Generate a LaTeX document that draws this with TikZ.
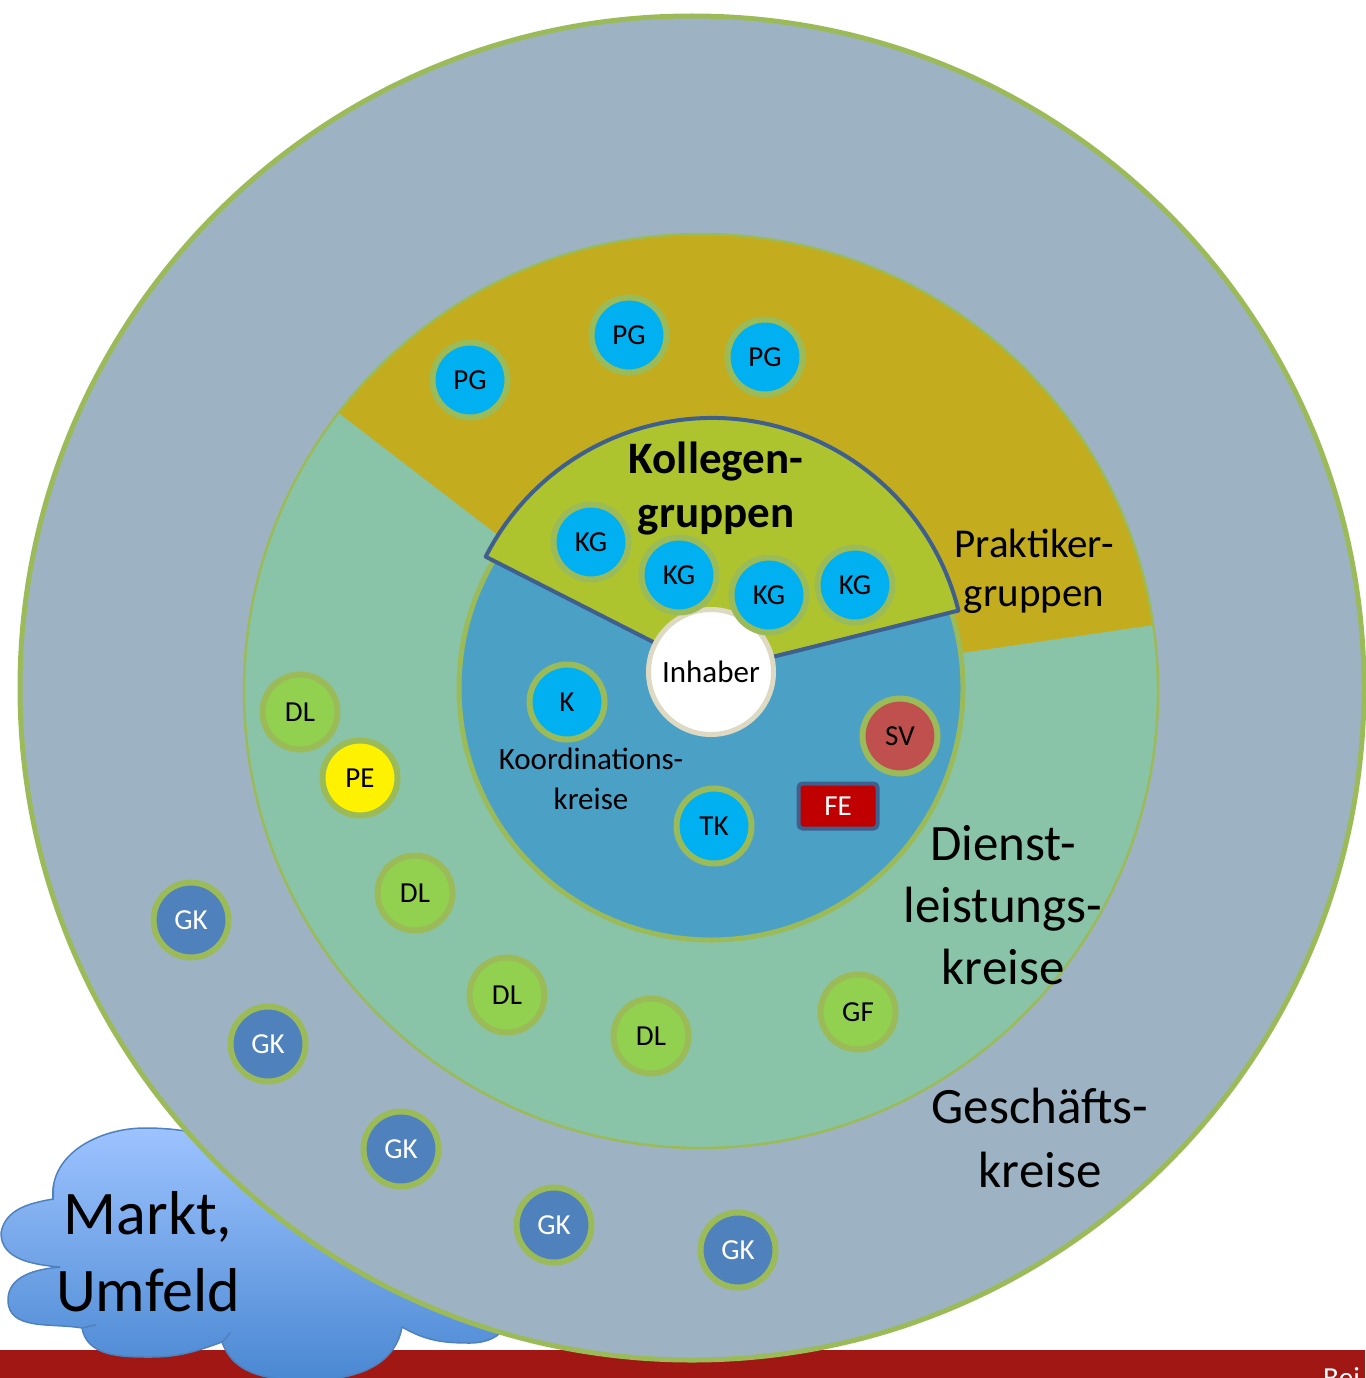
\documentclass[tikz,border=0pt]{standalone}
\usepackage{fontspec}
\setmainfont{Carlito}
\definecolor{outerfill}{HTML}{9DB3C3}
\definecolor{midfill}{HTML}{8AC4A8}
\definecolor{goldfill}{HTML}{C3AD1F}
\definecolor{innerblue}{HTML}{4BA0C6}
\definecolor{kollfill}{HTML}{AEC42E}
\definecolor{ringgreen}{HTML}{9BBB59}
\definecolor{sectorline}{HTML}{3F5F8F}
\definecolor{nodecyan}{HTML}{00B0F0}
\definecolor{dlgreen}{HTML}{92D050}
\definecolor{gkblue}{HTML}{4F81BD}
\definecolor{svred}{HTML}{C0504D}
\definecolor{fered}{HTML}{C00000}
\definecolor{barred}{HTML}{A01713}
\definecolor{cloudtop}{HTML}{9DC3FF}
\definecolor{cloudbot}{HTML}{4A88D2}
\definecolor{cloudline}{HTML}{4F81BD}
\definecolor{inhaberring}{HTML}{DDD9C3}
\tikzset{
  kreis/.style={circle,draw=ringgreen,line width=6pt,minimum size=75pt,inner sep=0pt,
    font=\fontsize{29}{29}\selectfont},
  cyankreis/.style={kreis,fill=nodecyan},
  dlkreis/.style={kreis,fill=dlgreen},
  gkkreis/.style={kreis,fill=gkblue,text=white},
  svkreis/.style={kreis,fill=svred},
  pekreis/.style={kreis,fill=yellow},
  fekasten/.style={rectangle,rounded corners=4pt,draw=sectorline,line width=4pt,fill=fered,
    text=white,minimum width=79pt,minimum height=45pt,inner sep=0pt,font=\fontsize{29}{29}\selectfont},
  inhaberkreis/.style={circle,draw=inhaberring,line width=5pt,fill=white,minimum size=125pt,
    inner sep=0pt,font=\fontsize{31}{31}\selectfont},
  bigtext/.style={align=center,inner sep=0pt}
}
\begin{document}
\begin{tikzpicture}[x=1pt,y=1pt,line join=round,line cap=round]
  \useasboundingbox (0,0) rectangle (1365,-1378);
  % bottom bar
  \fill[barred] (0,-1350) rectangle (1365,-1378);
  \node[anchor=base west,text=white,inner sep=0pt,font=\fontsize{29}{29}\selectfont] (bei) at (1323,-1387) {Bei};
  % cloud
  \draw[cloudline,line width=1.5pt,top color=cloudtop,bottom color=cloudbot]
    (53,-1199) to[out=95,in=180] (145,-1128) to[out=0,in=135] (300,-1195)
    -- (505,-1320) to[out=-90,in=0] (470,-1343) to[out=180,in=-30] (402,-1327)
    to[out=-100,in=0] (310,-1380) to[out=180,in=-70] (222,-1342)
    to[out=-160,in=0] (150,-1357) to[out=180,in=-80] (82,-1328)
    to[out=170,in=-90] (8,-1300) to[out=90,in=185] (60,-1267)
    to[out=175,in=-90] (1,-1233) to[out=80,in=190] cycle;
  \draw[cloudline,line width=1.5pt] (82,-1328) to[out=10,in=185] (96,-1325);
  \draw[cloudline,line width=1.5pt] (222,-1342) to[out=40,in=-130] (230,-1333);
  \draw[cloudline,line width=1.5pt] (53,-1199) to[out=-85,in=100] (54,-1186);
  % Geschaeftskreise
  \draw[ringgreen,line width=5pt,fill=outerfill] (692,-688) circle[radius=672pt];
  % Dienstleistungskreise and Praktikergruppen
  \fill[midfill] (701,-691) circle[radius=457pt];
  \fill[goldfill] (701,-691) -- ++(8.3:457pt) arc[start angle=8.3,end angle=142.5,radius=457pt] -- cycle;
  \draw[ringgreen,line width=2.5pt] (701,-691) circle[radius=457pt];
  % Koordinationskreise
  \draw[ringgreen,line width=5pt,fill=innerblue] (711,-688) circle[radius=252pt];
  % Kollegengruppen
  \draw[sectorline,line width=4pt,fill=kollfill] (712,-672) -- ++(14:254pt)
    arc[start angle=14,end angle=153,radius=254pt] -- cycle;
  % texts
  \node[bigtext,font=\bfseries\fontsize{45}{54}\selectfont] (kolltext) at (716,-489) {Kollegen-\\gruppen};
  \node[bigtext,font=\fontsize{41}{49}\selectfont] (praktext) at (1034,-571) {Praktiker-\\gruppen};
  \node[bigtext,font=\fontsize{51}{62}\selectfont] (dltext) at (1003,-905) {Dienst-\\leistungs-\\kreise};
  \node[bigtext,font=\fontsize{51}{64}\selectfont] (gktext) at (1040,-1138) {Geschäfts-\\kreise};
  \node[bigtext,font=\fontsize{62}{77}\selectfont] (markttext) at (148,-1252) {Markt,\\Umfeld};
  \node[bigtext,font=\fontsize{31}{40}\selectfont] (kotext) at (591,-779) {Koordinations-\\kreise};
  % centre
  \node[inhaberkreis] (inhaber) at (711,-672) {Inhaber};
  % small circles
  \node[cyankreis] (pg1) at (470,-380) {PG};
  \node[cyankreis] (pg2) at (629,-335) {PG};
  \node[cyankreis] (pg3) at (765,-357) {PG};
  \node[cyankreis] (kg1) at (591,-542) {KG};
  \node[cyankreis] (kg2) at (679,-575) {KG};
  \node[cyankreis] (kg3) at (769,-595) {KG};
  \node[cyankreis] (kg4) at (855,-585) {KG};
  \node[cyankreis] (k) at (567,-702) {K};
  \node[cyankreis] (tk) at (714,-826) {TK};
  \node[svkreis] (sv) at (900,-736) {SV};
  \node[fekasten] (fe) at (838,-806) {FE};
  \node[dlkreis] (dl1) at (300,-712) {DL};
  \node[pekreis] (pe) at (360,-778) {PE};
  \node[dlkreis] (dl2) at (415,-893) {DL};
  \node[dlkreis] (dl3) at (507,-995) {DL};
  \node[dlkreis] (dl4) at (651,-1036) {DL};
  \node[dlkreis] (gf) at (858,-1012) {GF};
  \node[gkkreis] (gk1) at (191,-920) {GK};
  \node[gkkreis] (gk2) at (268,-1044) {GK};
  \node[gkkreis] (gk3) at (401,-1149) {GK};
  \node[gkkreis] (gk4) at (554,-1225) {GK};
  \node[gkkreis] (gk5) at (738,-1250) {GK};
\end{tikzpicture}
\end{document}
